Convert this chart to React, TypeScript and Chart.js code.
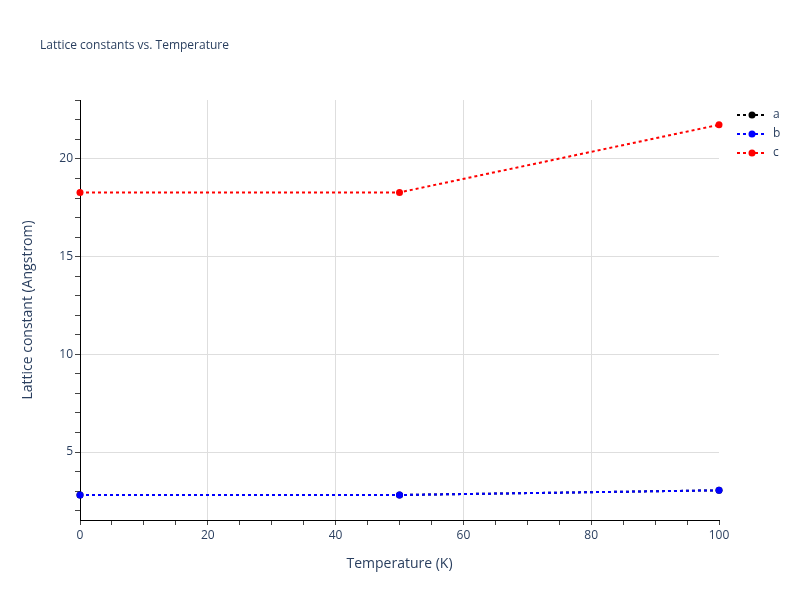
import { useEffect, useRef } from 'react';
import { Chart, registerables } from 'chart.js';

Chart.register(...registerables);

// Data
const temperatures = [0, 50, 100];
const latticeA = [2.8, 2.8, 3.04];
const latticeB = [2.8, 2.8, 3.04];
const latticeC = [18.29, 18.29, 21.75];
const seriesLabels = ['a', 'b', 'c'];
const seriesColors = ['black', 'blue', 'red'];

const xTickValues = [0, 5, 10, 15, 20, 25, 30, 35, 40, 45, 50, 55, 60, 65, 70, 75, 80, 85, 90, 95, 100];
const yTickValues = [2, 3, 4, 5, 6, 7, 8, 9, 10, 11, 12, 13, 14, 15, 16, 17, 18, 19, 20, 21, 22, 23];

const FONT = '"Open Sans", verdana, arial, sans-serif';
const TEXT = '#2a3f5f';
const GRID = '#dedede';

const overlayPlugin = {
  id: 'overlay',
  afterDraw(chart: Chart) {
    const ctx = chart.ctx;
    ctx.save();
    // title
    ctx.fillStyle = TEXT;
    ctx.font = `12px ${FONT}`;
    ctx.textAlign = 'left';
    ctx.textBaseline = 'middle';
    ctx.fillText('Lattice constants vs. Temperature', 40, 46);

    // legend: dotted line + marker, like the reference
    chart.data.datasets.forEach((ds: any, i: number) => {
      const y = 115 + i * 19;
      ctx.strokeStyle = ds.borderColor;
      ctx.lineWidth = 2;
      ctx.setLineDash([3, 3]);
      ctx.beginPath();
      ctx.moveTo(737, y);
      ctx.lineTo(766, y);
      ctx.stroke();
      ctx.setLineDash([]);
      ctx.fillStyle = ds.borderColor;
      ctx.beginPath();
      ctx.arc(752, y, 3.5, 0, Math.PI * 2);
      ctx.fill();
      ctx.fillStyle = TEXT;
      ctx.font = `12px ${FONT}`;
      ctx.fillText(ds.label, 773, y);
    });
    ctx.restore();
  },
};

export default function App() {
  const chartRef = useRef<HTMLCanvasElement>(null);
  const chartInstance = useRef<Chart | null>(null);

  useEffect(() => {
    if (!chartRef.current) return;
    if (chartInstance.current) chartInstance.current.destroy();

    const seriesValues = [latticeA, latticeB, latticeC];

    chartInstance.current = new Chart(chartRef.current, {
      type: 'line',
      data: {
        datasets: seriesValues.map((vals, i) => ({
          label: seriesLabels[i],
          data: temperatures.map((t, j) => ({ x: t, y: vals[j] })),
          borderColor: seriesColors[i],
          backgroundColor: seriesColors[i],
          borderWidth: 2,
          borderDash: [3, 3],
          pointRadius: 3.5,
          pointBorderWidth: 0,
          pointHoverRadius: 3.5,
          tension: 0,
          // later traces on top, as in the reference
          order: seriesValues.length - i,
          clip: false as any,
        })),
      },
      options: {
        responsive: false,
        animation: false,
        layout: { padding: { top: 100, right: 81, left: 0, bottom: 0 } },
        plugins: {
          legend: { display: false },
          title: { display: false },
          tooltip: { enabled: false },
        },
        scales: {
          x: {
            type: 'linear',
            min: 0,
            max: 100,
            afterBuildTicks: (scale: any) => {
              scale.ticks = xTickValues.map((v) => ({ value: v }));
            },
            afterFit: (scale: any) => {
              scale.height = 80;
            },
            border: { display: true, color: 'black', width: 1 },
            grid: {
              color: (c: any) =>
                c.tick && c.tick.value % 20 === 0 && c.tick.value > 0 && c.tick.value < 100 ? GRID : 'rgba(0,0,0,0)',
              tickColor: '#444',
              tickLength: 5,
              lineWidth: 1,
            },
            ticks: {
              autoSkip: false,
              maxRotation: 0,
              padding: 3,
              color: TEXT,
              font: { family: FONT, size: 12 },
              callback: (v: any) => (Number(v) % 20 === 0 ? String(v) : ''),
            },
            title: {
              display: true,
              text: 'Temperature (K)',
              color: TEXT,
              font: { family: FONT, size: 14 },
              padding: { top: 0, bottom: 28 },
            },
          },
          y: {
            type: 'linear',
            min: 1.52,
            max: 23.02,
            afterBuildTicks: (scale: any) => {
              scale.ticks = yTickValues.map((v) => ({ value: v }));
            },
            afterFit: (scale: any) => {
              scale.width = 80;
            },
            border: { display: true, color: 'black', width: 1 },
            grid: {
              color: (c: any) => (c.tick && c.tick.value % 5 === 0 ? GRID : 'rgba(0,0,0,0)'),
              tickColor: '#444',
              tickLength: 5,
              lineWidth: 1,
            },
            ticks: {
              autoSkip: false,
              padding: 2,
              color: TEXT,
              font: { family: FONT, size: 12 },
              callback: (v: any) => (Number(v) % 5 === 0 ? String(v) : ''),
            },
            title: {
              display: true,
              text: 'Lattice constant (Angstrom)',
              color: TEXT,
              font: { family: FONT, size: 14 },
              padding: { top: 20, bottom: 0 },
            },
          },
        },
      },
      plugins: [overlayPlugin],
    });

    return () => {
      if (chartInstance.current) {
        chartInstance.current.destroy();
        chartInstance.current = null;
      }
    };
  }, []);

  return (
    <div style={{ position: 'fixed', left: 0, top: 0, width: 800, height: 600, background: 'white' }}>
      <canvas ref={chartRef} width={800} height={600} style={{ width: 800, height: 600 }}></canvas>
    </div>
  );
}
